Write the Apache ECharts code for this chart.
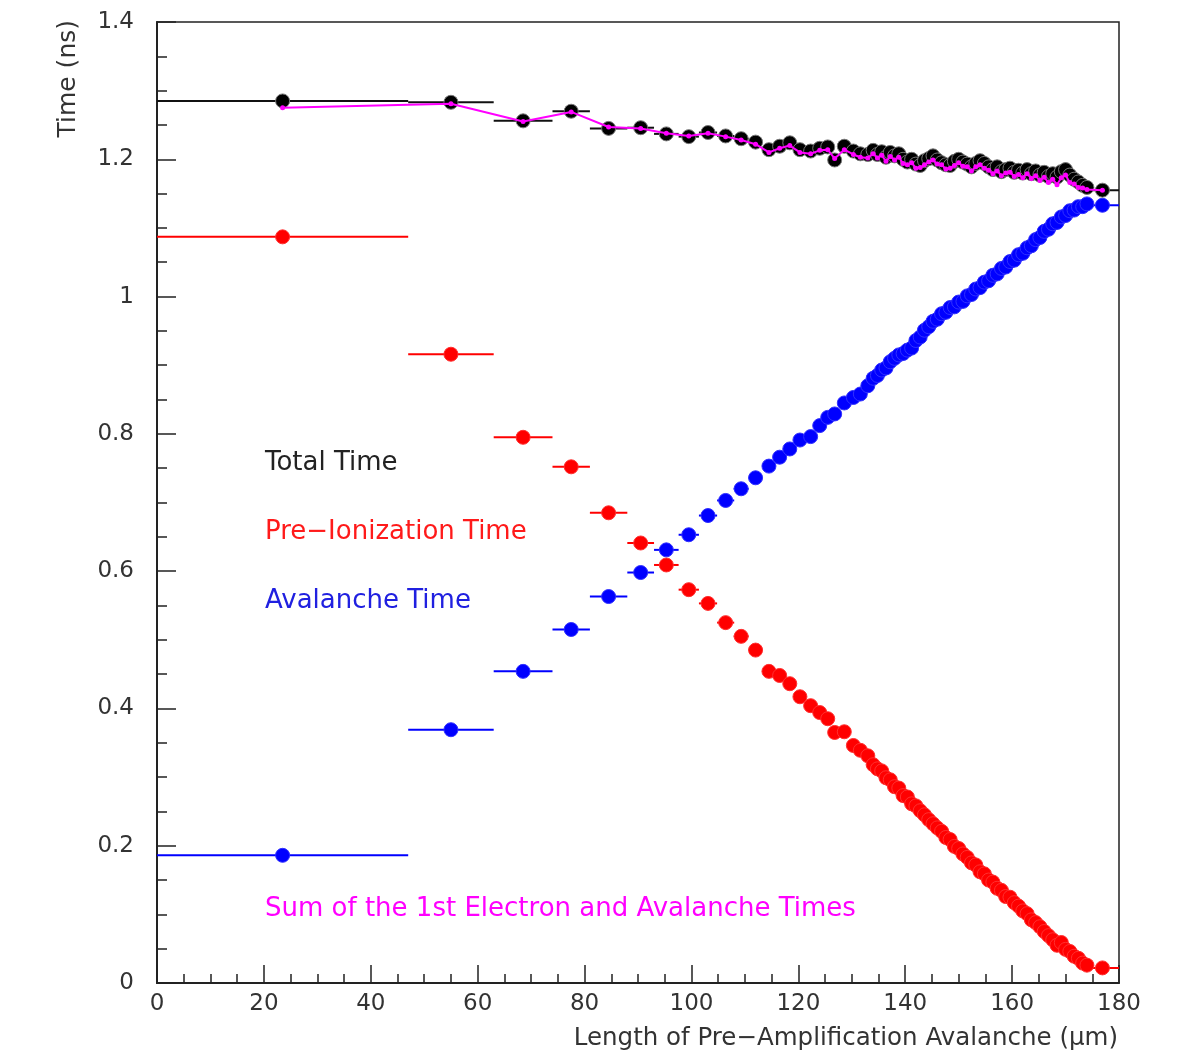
<!DOCTYPE html>
<html>
<head>
<meta charset="utf-8">
<script src="https://cdn.jsdelivr.net/npm/echarts@6/dist/echarts.min.js"></script>
<style>
html,body{margin:0;padding:0;background:#fff;}
#chart{width:1178px;height:1056px;}
</style>
</head>
<body>
<div id="chart"></div>
<script>
// ---- Data ----
const xVals = [
  23.5, 55.0, 68.5, 77.5, 84.5, 90.5, 95.3, 99.5, 103.1, 106.4, 109.3, 112.0,
  114.5, 116.5, 118.4, 120.3, 122.3, 124.0, 125.5, 126.8, 128.6, 130.3, 131.6, 133.0,
  134.0, 134.8, 135.6, 136.4, 137.2, 138.0, 138.8, 139.6, 140.4, 141.2,
  142.0, 142.8, 143.6, 144.4, 145.2, 146.0, 146.8, 147.6, 148.4, 149.2,
  150.0, 150.8, 151.6, 152.4, 153.2, 154.0, 154.8, 155.6, 156.4, 157.2,
  158.0, 158.8, 159.6, 160.4, 161.2, 162.0, 162.8, 163.6, 164.4, 165.2,
  166.0, 166.8, 167.6, 168.4, 169.2, 170.0, 170.8, 171.6, 172.4, 173.2,
  174.0, 176.9
];
// half bin widths (horizontal error bars)
const xHalfWidth = [
  23.5, 8.0, 5.5, 3.5, 3.5, 2.5, 2.3, 1.9, 1.7, 1.6, 1.4, 1.3,
  1.2, 1.0, 1.0, 0.9, 0.9, 0.8, 0.8, 0.7, 0.8, 0.8, 0.7, 0.6,
  0.4, 0.4, 0.4, 0.4, 0.4, 0.4, 0.4, 0.4, 0.4, 0.4,
  0.4, 0.4, 0.4, 0.4, 0.4, 0.4, 0.4, 0.4, 0.4, 0.4,
  0.4, 0.4, 0.4, 0.4, 0.4, 0.4, 0.4, 0.4, 0.4, 0.4,
  0.4, 0.4, 0.4, 0.4, 0.4, 0.4, 0.4, 0.4, 0.4, 0.4,
  0.4, 0.4, 0.4, 0.4, 0.4, 0.4, 0.4, 0.4, 0.4, 0.4,
  0.4, 3.1
];
const totalTime = [
  1.285, 1.283, 1.256, 1.270, 1.245, 1.246, 1.237, 1.233, 1.239, 1.234, 1.230, 1.225,
  1.214, 1.219, 1.224, 1.214, 1.212, 1.216, 1.218, 1.199, 1.219, 1.212, 1.208, 1.207,
  1.213, 1.207, 1.211, 1.203, 1.210, 1.205, 1.208, 1.200, 1.196, 1.200,
  1.193, 1.191, 1.198, 1.201, 1.205, 1.199, 1.195, 1.192, 1.191, 1.197,
  1.200, 1.196, 1.193, 1.189, 1.194, 1.198, 1.194, 1.189, 1.185, 1.189,
  1.182, 1.185, 1.187, 1.181, 1.184, 1.180, 1.185, 1.179, 1.183, 1.177,
  1.181, 1.175, 1.179, 1.174, 1.182, 1.185, 1.177, 1.171, 1.167, 1.162,
  1.159, 1.155
];
const sumTime = [
  1.275, 1.281, 1.255, 1.269, 1.247, 1.245, 1.238, 1.234, 1.238, 1.233, 1.228, 1.222,
  1.210, 1.216, 1.220, 1.210, 1.208, 1.213, 1.214, 1.201, 1.214, 1.207, 1.203, 1.202,
  1.208, 1.202, 1.206, 1.197, 1.204, 1.199, 1.203, 1.194, 1.192, 1.195,
  1.187, 1.188, 1.192, 1.196, 1.199, 1.193, 1.192, 1.186, 1.187, 1.191,
  1.195, 1.190, 1.189, 1.183, 1.189, 1.192, 1.187, 1.184, 1.179, 1.183,
  1.176, 1.180, 1.181, 1.175, 1.178, 1.173, 1.179, 1.172, 1.176, 1.169,
  1.174, 1.166, 1.171, 1.163, 1.173, 1.177, 1.166, 1.164, 1.159, 1.158,
  1.156, 1.155
];
const preIonTime = [
  1.087, 0.916, 0.795, 0.752, 0.685, 0.641, 0.609, 0.573, 0.553, 0.525, 0.505, 0.485,
  0.454, 0.448, 0.436, 0.417, 0.404, 0.394, 0.385, 0.365, 0.366, 0.346, 0.339, 0.331,
  0.318, 0.312, 0.309, 0.299, 0.296, 0.286, 0.284, 0.273, 0.271, 0.261,
  0.258, 0.251, 0.245, 0.238, 0.232, 0.226, 0.221, 0.212, 0.209, 0.199,
  0.196, 0.188, 0.183, 0.175, 0.172, 0.162, 0.159, 0.150, 0.147, 0.138,
  0.135, 0.126, 0.125, 0.117, 0.112, 0.105, 0.101, 0.092, 0.088, 0.082,
  0.075, 0.069, 0.063, 0.055, 0.059, 0.049, 0.046, 0.039, 0.036, 0.029,
  0.026, 0.022
];
const avalancheTime = [
  0.186, 0.369, 0.454, 0.515, 0.563, 0.598, 0.631, 0.653, 0.681, 0.703, 0.720, 0.736,
  0.753, 0.766, 0.778, 0.791, 0.796, 0.812, 0.824, 0.829, 0.845, 0.853, 0.858, 0.870,
  0.881, 0.885, 0.893, 0.896, 0.905, 0.910, 0.915, 0.917, 0.922, 0.925,
  0.936, 0.941, 0.951, 0.956, 0.964, 0.967, 0.975, 0.977, 0.984, 0.985,
  0.992, 0.993, 1.001, 1.003, 1.011, 1.013, 1.021, 1.023, 1.031, 1.033,
  1.041, 1.043, 1.051, 1.053, 1.061, 1.063, 1.071, 1.074, 1.083, 1.086,
  1.095, 1.098, 1.106, 1.108, 1.116, 1.118, 1.125, 1.126, 1.131, 1.131,
  1.135, 1.133
];
const xTicks = { min: 0, max: 180, interval: 20 };
const yTicks = { min: 0, max: 1.4, interval: 0.2 };
const labels = {
  total: 'Total Time',
  pre: 'Pre\u2212Ionization Time',
  aval: 'Avalanche Time',
  sum: 'Sum of the 1st Electron and Avalanche Times',
  xTitle: 'Length of Pre\u2212Amplification Avalanche (\u03bcm)',
  yTitle: 'Time (ns)'
};

// ---- Build chart ----
const FONT = 'DejaVu Sans';
const pts = arr => xVals.map((x, i) => [x, arr[i]]);
const bars = arr => xVals.map((x, i) => [x - xHalfWidth[i], x + xHalfWidth[i], arr[i]]);

function errSeries(arr, color) {
  return {
    type: 'custom',
    data: bars(arr),
    encode: { x: [0, 1], y: 2 },
    clip: true,
    silent: true,
    renderItem: function (params, api) {
      const a = api.coord([api.value(0), api.value(2)]);
      const b = api.coord([api.value(1), api.value(2)]);
      return { type: 'line', shape: { x1: a[0], y1: a[1], x2: b[0], y2: b[1] },
               style: { stroke: color, lineWidth: 2 } };
    }
  };
}
function dotSeries(arr, color, border) {
  return {
    type: 'scatter',
    data: pts(arr),
    symbol: 'circle',
    symbolSize: 14,
    itemStyle: { color: color, borderColor: border, borderWidth: 1, opacity: 1 },
    silent: true,
    clip: true
  };
}

const chart = echarts.init(document.getElementById('chart'), null, { renderer: 'canvas' });
chart.setOption({
  animation: false,
  backgroundColor: '#fff',
  grid: { left: 157, right: 59, top: 22, bottom: 73, show: true,
          borderColor: '#222', borderWidth: 1.5, backgroundColor: 'transparent' },
  xAxis: {
    type: 'value', min: xTicks.min, max: xTicks.max, interval: xTicks.interval,
    axisLine: { show: true, onZero: false, lineStyle: { color: '#222', width: 2 } },
    axisTick: { show: true, inside: true, length: 18, lineStyle: { color: '#222', width: 1.5 } },
    minorTick: { show: true, splitNumber: 4, length: 9, lineStyle: { color: '#222', width: 1.5 } },
    splitLine: { show: false },
    axisLabel: { fontFamily: FONT, fontSize: 23, color: '#333', margin: 10 }
  },
  yAxis: {
    type: 'value', min: yTicks.min, max: yTicks.max, interval: yTicks.interval,
    axisLine: { show: true, onZero: false, lineStyle: { color: '#222', width: 2 } },
    axisTick: { show: true, inside: true, length: 19, lineStyle: { color: '#222', width: 1.5 } },
    minorTick: { show: true, splitNumber: 4, length: 10, lineStyle: { color: '#222', width: 1.5 } },
    splitLine: { show: false },
    axisLabel: { fontFamily: FONT, fontSize: 23, color: '#333', margin: 23 }
  },
  series: [
    errSeries(preIonTime, '#ff0000'),
    dotSeries(preIonTime, '#ff0000', '#ff3030'),
    errSeries(avalancheTime, '#0000ff'),
    dotSeries(avalancheTime, '#0000ff', '#3030ff'),
    errSeries(totalTime, '#111111'),
    dotSeries(totalTime, '#000000', '#777777'),
    {
      type: 'line',
      data: pts(sumTime),
      symbol: 'circle',
      symbolSize: 5,
      showSymbol: true,
      lineStyle: { color: '#ff00ff', width: 2 },
      itemStyle: { color: '#ff00ff' },
      silent: true,
      clip: true,
      z: 5
    }
  ],
  graphic: [
    { type: 'text', left: 265, top: 450, style: { text: labels.total, fill: '#222', fontFamily: FONT, fontSize: 26 } },
    { type: 'text', left: 265, top: 519, style: { text: labels.pre, fill: '#ff1a1a', fontFamily: FONT, fontSize: 26 } },
    { type: 'text', left: 265, top: 588, style: { text: labels.aval, fill: '#2020e0', fontFamily: FONT, fontSize: 26 } },
    { type: 'text', left: 265, top: 896, style: { text: labels.sum, fill: '#ff00ff', fontFamily: FONT, fontSize: 26 } },
    { type: 'text', right: 60, top: 1026, style: { text: labels.xTitle, fill: '#333', fontFamily: FONT, fontSize: 24.5 } },
    { type: 'text', x: 68, y: 20, rotation: Math.PI / 2,
      style: { text: labels.yTitle, fill: '#333', fontFamily: FONT, fontSize: 25,
               textAlign: 'right', textVerticalAlign: 'middle' } }
  ]
});
</script>
</body>
</html>
